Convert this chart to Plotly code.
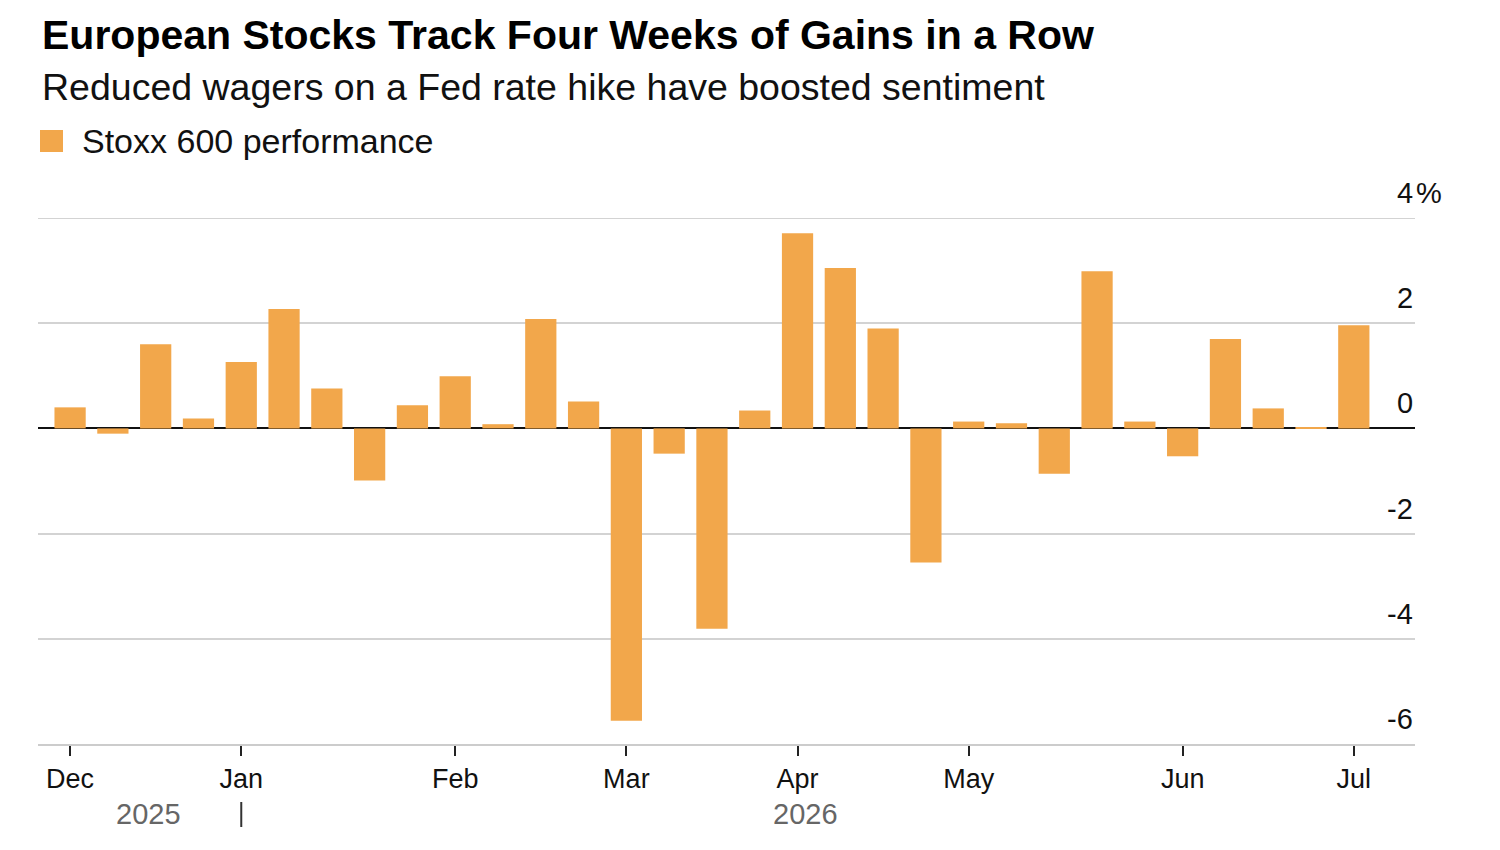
import plotly.graph_objects as go

# ---- data ----
week_index = list(range(31))
performance = [0.40, -0.10, 1.60, 0.19, 1.26, 2.27, 0.76, -0.99, 0.44, 0.99,
               0.08, 2.08, 0.51, -5.56, -0.48, -3.81, 0.34, 3.71, 3.05, 1.90,
               -2.55, 0.13, 0.10, -0.86, 2.99, 0.13, -0.53, 1.70, 0.38, 0.02, 1.96]
month_tick_index = [0, 4, 9, 13, 17, 21, 26, 30]
month_labels = ["Dec", "Jan", "Feb", "Mar", "Apr", "May", "Jun", "Jul"]
y_ticks = [4, 2, 0, -2, -4, -6]
y_tick_labels = ["4", "2", "0", "-2", "-4", "-6"]
year_labels = ["2025", "2026"]
series_name = "Stoxx 600 performance"
title = "European Stocks Track Four Weeks of Gains in a Row"
subtitle = "Reduced wagers on a Fed rate hike have boosted sentiment"

BAR = "#F2A74B"
FONT = "Liberation Sans, Arial, sans-serif"
PW = 1377.0   # plot width in px
PH = 526.0    # plot height in px

fig = go.Figure()
fig.add_trace(go.Bar(x=week_index, y=performance, name=series_name,
                     marker=dict(color=BAR, line=dict(width=0)),
                     showlegend=False))

annotations = [
    dict(text=f"<b>{title}</b>", xref="paper", yref="paper", x=0.0015, y=1 + 183 / PH,
         xanchor="left", yanchor="middle", showarrow=False,
         font=dict(size=41, color="#000000", family=FONT)),
    dict(text=subtitle, xref="paper", yref="paper", x=0.0015, y=1 + 131 / PH,
         xanchor="left", yanchor="middle", showarrow=False,
         font=dict(size=37.5, color="#111111", family=FONT)),
    dict(text=series_name, xref="paper", yref="paper", x=(80 - 38) / PW, y=1 + 77 / PH,
         xanchor="left", yanchor="middle", showarrow=False,
         font=dict(size=34, color="#111111", family=FONT)),
    dict(text=year_labels[0], xref="paper", yref="paper", x=(148 - 38) / PW, y=-70 / PH,
         xanchor="center", yanchor="middle", showarrow=False,
         font=dict(size=29, color="#666666", family=FONT)),
    dict(text=year_labels[1], xref="paper", yref="paper", x=(805 - 38) / PW, y=-70 / PH,
         xanchor="center", yanchor="middle", showarrow=False,
         font=dict(size=29, color="#666666", family=FONT)),
]
for v, lab in zip(y_ticks, y_tick_labels):
    annotations.append(dict(text=lab, xref="paper", yref="y", x=1.0, y=v,
                            xanchor="right", yanchor="middle", yshift=25,
                            showarrow=False,
                            font=dict(size=29, color="#111111", family=FONT)))
annotations.append(dict(text="%", xref="paper", yref="y", x=1.0, y=y_ticks[0],
                        xanchor="left", yanchor="middle", yshift=25, xshift=-1,
                        showarrow=False,
                        font=dict(size=29, color="#111111", family=FONT)))

shapes = [
    # legend swatch
    dict(type="rect", xref="paper", yref="paper",
         x0=(40 - 38) / PW, x1=(63 - 38) / PW, y0=1 + 66 / PH, y1=1 + 88 / PH,
         fillcolor=BAR, line=dict(width=0)),
    # top gridline
    dict(type="line", xref="paper", yref="y", x0=0, x1=1, y0=y_ticks[0], y1=y_ticks[0],
         line=dict(color="#d3d3d3", width=2), layer="below"),
    # year separator under Jan
    dict(type="line", xref="x", yref="paper", x0=month_tick_index[1],
         x1=month_tick_index[1], y0=-58 / PH, y1=-83 / PH,
         line=dict(color="#333333", width=2)),
]

fig.update_layout(
    width=1500, height=850,
    margin=dict(l=38, r=85, t=218, b=106),
    paper_bgcolor="white", plot_bgcolor="white",
    bargap=0.27,
    showlegend=False,
    font=dict(family=FONT, size=27, color="#111111"),
    annotations=annotations,
    shapes=shapes,
)
fig.update_xaxes(range=[-0.75, 31.43], tickmode="array", tickvals=month_tick_index,
                 ticktext=month_labels, ticks="outside", ticklen=10, tickwidth=2,
                 tickcolor="#222222", showline=True, linecolor="#cccccc", linewidth=2,
                 showgrid=False, zeroline=False,
                 tickfont=dict(size=27, color="#111111", family=FONT))
fig.update_yaxes(range=[-6, 4], tickvals=y_ticks, showticklabels=False,
                 showgrid=True, gridcolor="#d3d3d3", gridwidth=2,
                 zeroline=True, zerolinecolor="#111111", zerolinewidth=2,
                 fixedrange=True)

fig.write_html("out.html")
